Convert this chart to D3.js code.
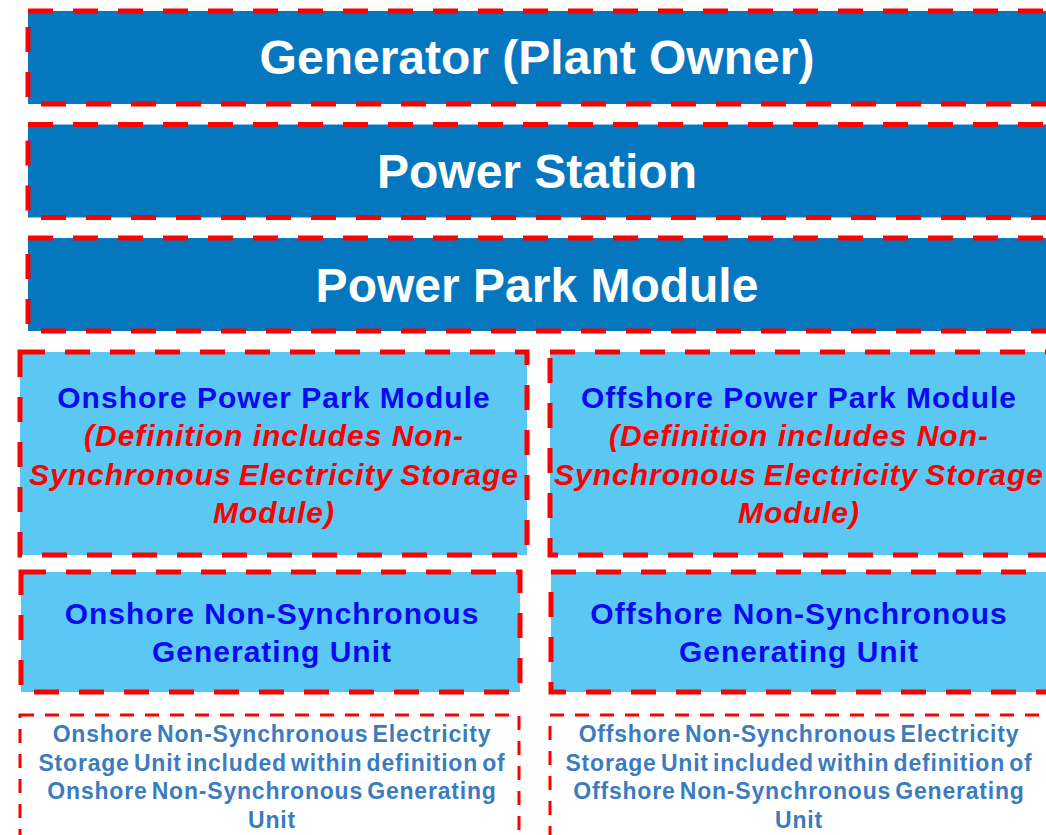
<!DOCTYPE html>
<html>
<head>
<meta charset="utf-8">
<script src="https://cdn.jsdelivr.net/npm/d3@7"></script>
<style>
  html, body { margin: 0; padding: 0; background: #fff; overflow: hidden; }
  text { font-family: "Liberation Sans", Arial, sans-serif; font-weight: bold; }
</style>
</head>
<body>
<div id="chart"></div>
<script>
// Data
var topLevels = ["Generator (Plant Owner)", "Power Station", "Power Park Module"];
var sides = ["Onshore", "Offshore"];
var moduleTitles = sides.map(function(s) { return s + " Power Park Module"; });
var moduleNote = ["(Definition includes Non-", "Synchronous Electricity Storage", "Module)"];
var unitLines = sides.map(function(s) { return [s + " Non-Synchronous", "Generating Unit"]; });
var storageLines = sides.map(function(s) {
  return [s + " Non-Synchronous Electricity", "Storage Unit included within definition of",
          s + " Non-Synchronous Generating", "Unit"];
});

var W = 1046, H = 835;
var svg = d3.select("#chart").append("svg")
  .attr("width", W).attr("height", H);

// vertical layout of the three full-width levels
var yTop = d3.scaleBand().domain(topLevels).range([11, 331]).paddingInner(0.181);
// column layout
var colX = d3.scaleOrdinal().domain(sides).range([20, 550]);
var colCenter = d3.scaleOrdinal().domain(sides).range([272, 799]);

// top levels
var tops = svg.selectAll("g.top").data(topLevels).enter().append("g").attr("class", "top");
tops.append("rect")
  .attr("x", 28).attr("y", function(d) { return yTop(d); })
  .attr("width", 1030).attr("height", yTop.bandwidth())
  .attr("fill", "#0477bf")
  .attr("stroke", "#ff0000").attr("stroke-width", 5)
  .attr("stroke-dasharray", "25,20");
tops.append("text")
  .attr("x", 537).attr("y", function(d) { return yTop(d) + yTop.bandwidth() / 2 + 17; })
  .attr("text-anchor", "middle").attr("fill", "#fff")
  .style("font-size", "48px")
  .text(function(d) { return d; });

// power park modules
var ppm = svg.selectAll("g.ppm").data(sides).enter().append("g").attr("class", "ppm");
ppm.append("rect")
  .attr("x", function(d) { return colX(d); }).attr("y", 352)
  .attr("width", function(d, i) { return i === 0 ? 507 : 510; }).attr("height", 203)
  .attr("fill", "#5bc8f4")
  .attr("stroke", "#ff0000").attr("stroke-width", 5)
  .attr("stroke-dasharray", "25,20");
ppm.append("text")
  .attr("x", function(d, i) { return colCenter(d) + (i === 0 ? 2 : 0); }).attr("y", 408)
  .attr("text-anchor", "middle").attr("fill", "#0a0af0")
  .style("font-size", "30px").style("letter-spacing", "1px")
  .text(function(d, i) { return moduleTitles[i]; });

// justified red note lines
var noteWidths = [380, 490, 0];
ppm.each(function(side, i) {
  var g = d3.select(this);
  moduleNote.forEach(function(line, j) {
    var t = g.append("text")
      .attr("x", colCenter(side) + (i === 0 ? 2 : 0)).attr("y", 446 + j * 38.5)
      .attr("text-anchor", "middle").attr("fill", "#ff0000")
      .style("font-size", "30px").style("font-style", "italic")
      .style("letter-spacing", "1px")
      .text(line);
    var words = line.split(" ").length;
    if (noteWidths[j] && words > 1) {
      var natural = t.node().getComputedTextLength();
      t.style("word-spacing", ((noteWidths[j] - natural) / (words - 1)) + "px");
    }
  });
});

// generating units
var gu = svg.selectAll("g.gu").data(sides).enter().append("g").attr("class", "gu");
gu.append("rect")
  .attr("x", function(d) { return colX(d) + 1; }).attr("y", 572)
  .attr("width", function(d, i) { return i === 0 ? 499 : 510; }).attr("height", 120)
  .attr("fill", "#5bc8f4")
  .attr("stroke", "#ff0000").attr("stroke-width", 5)
  .attr("stroke-dasharray", "25,20");
gu.each(function(side, i) {
  d3.select(this).selectAll("text").data(unitLines[i]).enter().append("text")
    .attr("x", colCenter(side)).attr("y", function(d, j) { return 624 + j * 38; })
    .attr("text-anchor", "middle").attr("fill", "#0a0af0")
    .style("font-size", "30px").style("letter-spacing", "1px")
    .text(function(d) { return d; });
});

// storage units
var su = svg.selectAll("g.su").data(sides).enter().append("g").attr("class", "su");
su.append("rect")
  .attr("x", function(d) { return colX(d); }).attr("y", 715)
  .attr("width", function(d, i) { return i === 0 ? 499 : 510; }).attr("height", 140)
  .attr("fill", "#fff")
  .attr("stroke", "#ff0000").attr("stroke-width", 3)
  .attr("stroke-dasharray", "14,11");
su.each(function(side, i) {
  d3.select(this).selectAll("text").data(storageLines[i]).enter().append("text")
    .attr("x", colCenter(side)).attr("y", function(d, j) { return 742 + j * 28.7; })
    .attr("text-anchor", "middle").attr("fill", "#3b7cc0")
    .style("font-size", "23px").style("letter-spacing", "0.8px")
    .style("word-spacing", "-3px")
    .text(function(d) { return d; });
});
</script>
</body>
</html>
